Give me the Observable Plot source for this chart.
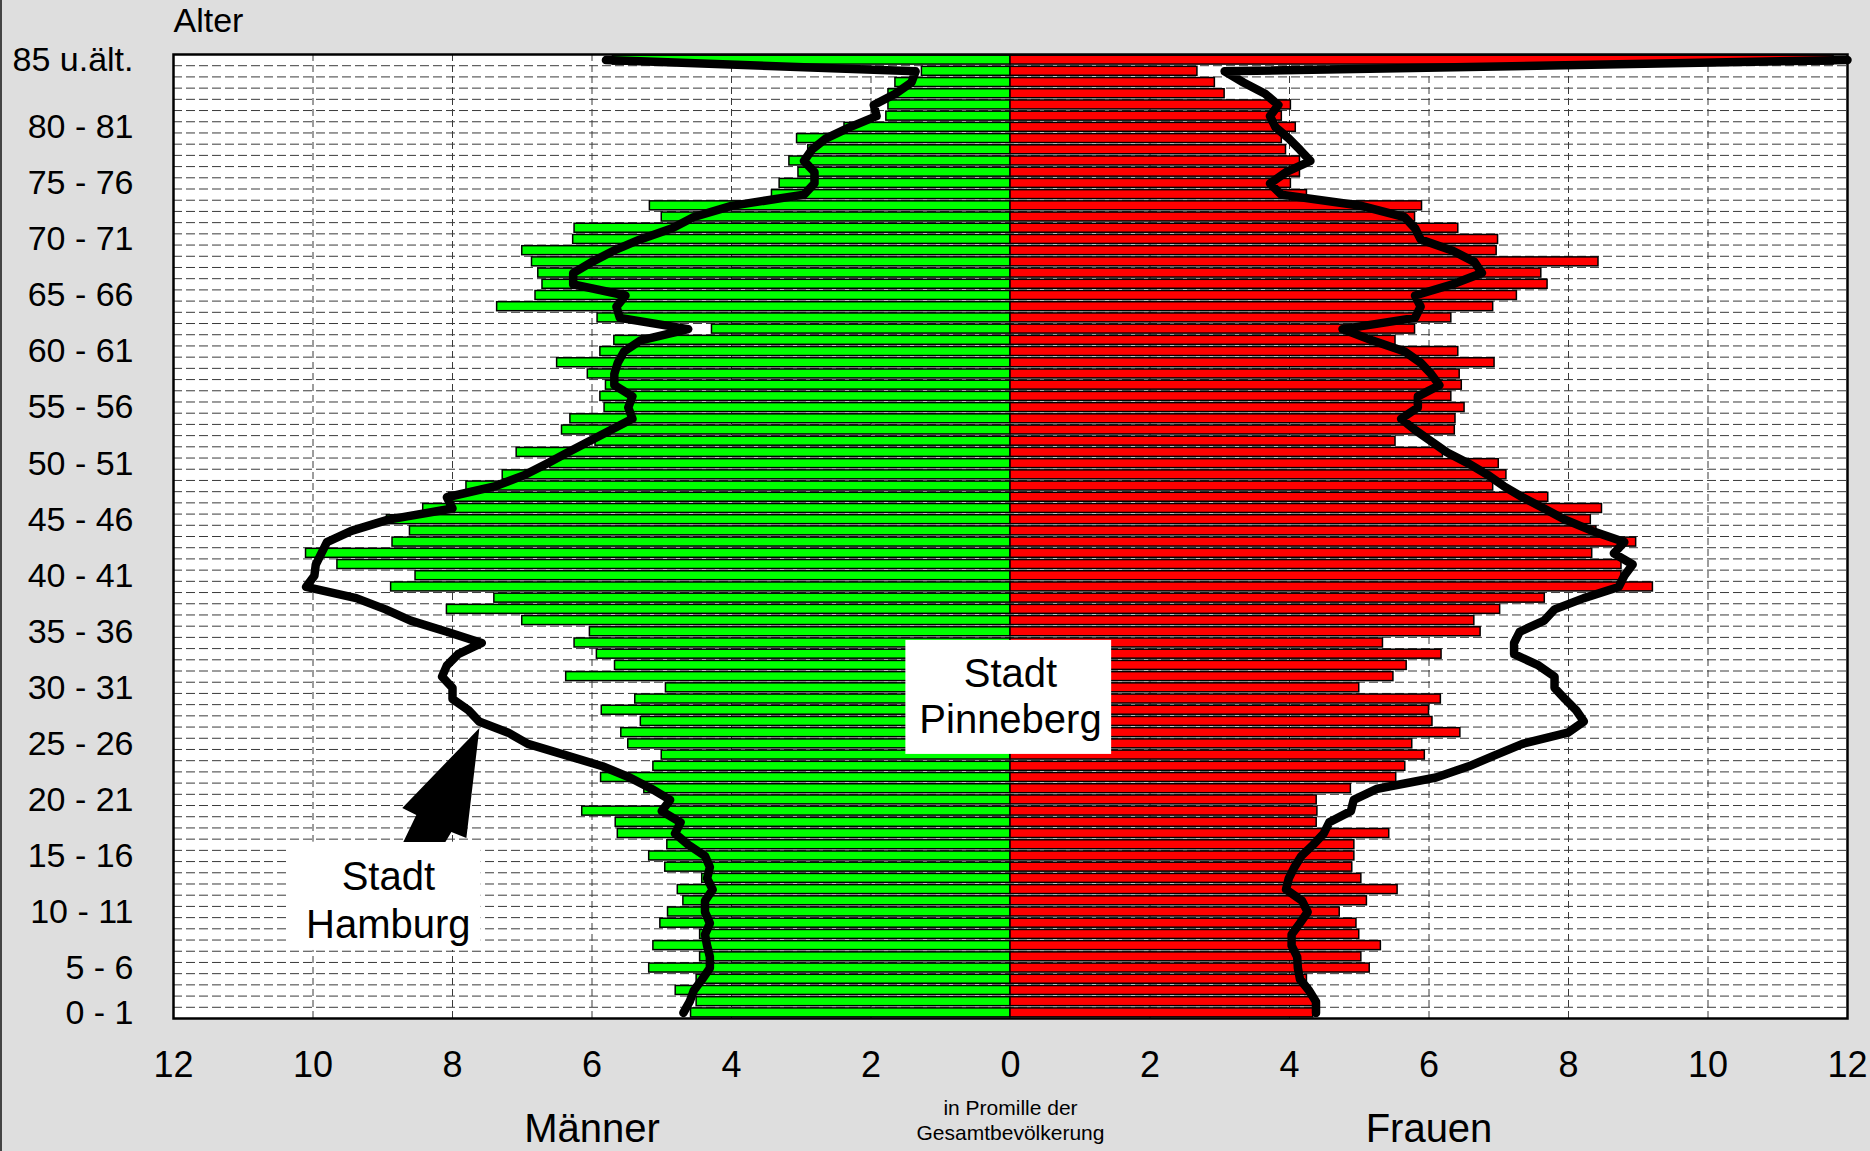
<!DOCTYPE html>
<html>
<head>
<meta charset="utf-8">
<script src="https://cdn.jsdelivr.net/npm/d3@7"></script>
<script src="https://cdn.jsdelivr.net/npm/@observablehq/plot@0.6"></script>
<style>
  html, body { margin: 0; padding: 0; background: #dedede; }
  #wrap { position: relative; width: 1870px; height: 1151px; overflow: hidden; }
  #edge { position: absolute; left: 0; top: 0; width: 1.5px; height: 1151px; background: #444; }
  svg { display: block; }
</style>
</head>
<body>
<div id="wrap"><div id="edge"></div></div>
<script>
// Age rows, from top (85 and older) down to age 0
const ages = [85,84,83,82,81,80,79,78,77,76,75,74,73,72,71,70,69,68,67,66,65,64,63,62,61,60,59,58,57,56,55,54,53,52,51,50,49,48,47,46,45,44,43,42,41,40,39,38,37,36,35,34,33,32,31,30,29,28,27,26,25,24,23,22,21,20,19,18,17,16,15,14,13,12,11,10,9,8,7,6,5,4,3,2,1,0];

// Stadt Pinneberg, Männer (‰ of total population)
const pinnebergMen = [
  5.7, 1.27, 1.65, 1.75, 1.75, 1.78, 2.38, 3.06, 2.9, 3.17,
  3.04, 3.31, 3.42, 5.17, 5.0, 6.25, 6.27, 7.0, 6.86, 6.77,
  6.71, 6.81, 7.36, 5.92, 4.28, 5.68, 5.88, 6.5, 6.06, 5.8,
  5.88, 5.82, 6.31, 6.43, 5.95, 7.08, 6.6, 7.28, 7.8, 8.05,
  8.42, 8.94, 8.61, 8.86, 10.1, 9.65, 8.53, 8.88, 7.4, 8.08,
  7.0, 6.03, 6.25, 5.93, 5.67, 6.37, 4.94, 5.38, 5.86, 5.3,
  5.58, 5.48, 5.0, 5.12, 5.87, 5.25, 4.9, 6.14, 5.66, 5.63,
  4.92, 5.18, 4.95, 4.42, 4.77, 4.69, 4.91, 5.02, 4.45, 5.12,
  4.45, 5.18, 4.5, 4.8, 4.5, 4.58
];
// Stadt Pinneberg, Frauen
const pinnebergWomen = [
  11.8, 2.68, 2.93, 3.07, 4.02, 3.89, 4.09, 3.89, 3.95, 4.15,
  4.15, 4.02, 4.25, 5.9, 5.8, 6.42, 6.99, 6.97, 8.43, 7.61,
  7.7, 7.26, 6.92, 6.32, 5.8, 5.52, 6.42, 6.94, 6.44, 6.47,
  6.32, 6.51, 6.38, 6.37, 5.52, 6.2, 7.0, 7.11, 6.92, 7.71,
  8.48, 8.32, 8.4, 8.97, 8.34, 8.76, 8.76, 9.21, 7.66, 7.02,
  6.65, 6.74, 5.34, 6.18, 5.68, 5.49, 5.0, 6.17, 6.0, 6.05,
  6.45, 5.76, 5.94, 5.66, 5.53, 4.88, 4.39, 4.4, 4.39, 5.43,
  4.93, 4.93, 4.9, 5.03, 5.55, 5.11, 4.72, 4.96, 5.0, 5.31,
  5.03, 5.15, 4.25, 4.3, 4.34, 4.34
];
// Stadt Hamburg, Männer
const hamburgMen = [
  5.8, 1.36, 1.42, 1.65, 1.96, 1.92, 2.31, 2.65, 2.85, 2.96,
  2.81, 2.81, 2.96, 4.0, 4.54, 4.85, 5.31, 5.69, 6.0, 6.27,
  6.27, 5.52, 5.65, 5.6, 4.62, 5.3, 5.54, 5.63, 5.68, 5.68,
  5.42, 5.48, 5.42, 5.73, 6.04, 6.35, 6.65, 6.96, 7.38, 8.08,
  8.0, 8.92, 9.45, 9.8, 9.88, 9.96, 9.98, 10.1, 9.38, 8.96,
  8.6, 8.08, 7.58, 7.92, 8.08, 8.15, 8.0, 8.0, 7.77, 7.62,
  7.2, 6.92, 6.38, 5.85, 5.46, 5.15, 4.88, 5.0, 4.73, 4.81,
  4.62, 4.38, 4.31, 4.35, 4.27, 4.38, 4.38, 4.31, 4.38, 4.35,
  4.31, 4.31, 4.42, 4.54, 4.6, 4.69
];
// Stadt Hamburg, Frauen
const hamburgWomen = [
  12.0, 3.07, 3.34, 3.65, 3.84, 3.72, 3.8, 3.99, 4.15, 4.3,
  3.95, 3.72, 3.88, 5.03, 5.65, 5.8, 5.88, 6.34, 6.65, 6.76,
  6.34, 5.8, 5.88, 5.8, 4.76, 5.18, 5.65, 5.88, 6.03, 6.15,
  5.84, 5.84, 5.6, 5.8, 6.03, 6.26, 6.57, 6.84, 7.07, 7.34,
  7.65, 7.95, 8.34, 8.8, 8.65, 8.92, 8.8, 8.72, 8.22, 7.8,
  7.65, 7.3, 7.22, 7.22, 7.57, 7.8, 7.8, 7.95, 8.11, 8.22,
  7.99, 7.34, 6.95, 6.57, 6.1, 5.26, 4.92, 4.88, 4.57, 4.49,
  4.34, 4.17, 4.07, 3.99, 3.95, 4.18, 4.26, 4.15, 4.03, 4.03,
  4.11, 4.12, 4.15, 4.28, 4.38, 4.38
];

// Axis ticks and labels
const xTicks = [-12,-10,-8,-6,-4,-2,0,2,4,6,8,10,12];
const yTickAges = [85,79,74,69,64,59,54,49,44,39,34,29,24,19,14,9,4,0];
const yTickLabels = ["85 u.ält.","80 - 81","75 - 76","70 - 71","65 - 66","60 - 61","55 - 56","50 - 51","45 - 46","40 - 41","35 - 36","30 - 31","25 - 26","20 - 21","15 - 16","10 - 11","5 - 6","0 - 1"];

// Annotations (in data units: x in ‰, y in age rows)
const annoBoxes = [
  {x1: -1.5, x2: 1.45, y1: 23.06, y2: 33.23},
  {x1: -10.36, x2: -7.59, y1: 5.57, y2: 15.23}
];
const annoTexts = [
  {x: 0, y: 30.2, text: "Stadt"},
  {x: 0, y: 26.07, text: "Pinneberg"},
  {x: -8.92, y: 12.13, text: "Stadt"},
  {x: -8.92, y: 7.85, text: "Hamburg"}
];
const arrowPts = [
  [-7.607, 25.375], [-7.794, 15.56], [-8.009, 16.1], [-8.095, 15.21],
  [-8.698, 15.21], [-8.512, 17.61], [-8.713, 18.24]
];
const sexLabels = [{x: -6, text: "Männer"}, {x: 6, text: "Frauen"}];

const rows = ages.map((age, i) => ({
  age,
  men: pinnebergMen[i],
  women: pinnebergWomen[i],
  hhMen: hamburgMen[i],
  hhWomen: hamburgWomen[i]
}));
const boundaries = ages.filter(a => a > 0).map(a => a - 0.5);
const labelOf = new Map(yTickAges.map((a, i) => [a, yTickLabels[i]]));
const FONT = "'Liberation Sans', Arial, Helvetica, sans-serif";

const plot = Plot.plot({
  width: 1870,
  height: 1151,
  marginLeft: 173,
  marginRight: 23,
  marginTop: 54,
  marginBottom: 133,
  style: {fontFamily: FONT, fontSize: "34px", background: "transparent", color: "black", overflow: "visible"},
  x: {domain: [-12, 12]},
  y: {domain: [-0.5, 85.5]},
  marks: [
    Plot.frame({fill: "white", stroke: "none"}),
    Plot.ruleY(boundaries, {stroke: "#3a3a3a", strokeWidth: 1, strokeDasharray: "9,4"}),
    Plot.ruleX(xTicks.filter(v => v !== 0 && Math.abs(v) < 12), {stroke: "#3a3a3a", strokeWidth: 1, strokeDasharray: "7,4"}),
    Plot.rect(rows, {x1: d => 0, x2: d => -d.men, y1: d => d.age - 0.4, y2: d => d.age + 0.4, fill: "#00ff00", stroke: "black", strokeWidth: 1.5}),
    Plot.rect(rows, {x1: d => 0, x2: d => d.women, y1: d => d.age - 0.4, y2: d => d.age + 0.4, fill: "#ff0000", stroke: "black", strokeWidth: 1.5}),
    Plot.line(rows, {x: d => -d.hhMen, y: "age", stroke: "black", strokeWidth: 8.5, strokeLinejoin: "round", strokeLinecap: "round"}),
    Plot.line(rows, {x: "hhWomen", y: "age", stroke: "black", strokeWidth: 8.5, strokeLinejoin: "round", strokeLinecap: "round"}),
    Plot.rect(annoBoxes, {x1: "x1", x2: "x2", y1: "y1", y2: "y2", fill: "white"}),
    Plot.text(annoTexts, {x: "x", y: "y", text: "text", fontSize: 40, fill: "black"}),
    Plot.frame({stroke: "black", strokeWidth: 2.5}),
    Plot.axisX({ticks: xTicks, tickFormat: d => Math.abs(d), tickSize: 0, tickPadding: 33, fontSize: 36, label: null}),
    Plot.axisY({ticks: yTickAges, tickFormat: d => labelOf.get(d), tickSize: 0, tickPadding: 40, fontSize: 34, label: null}),
    Plot.text(["Alter"], {frameAnchor: "top-left", lineAnchor: "middle", textAnchor: "start", dy: -33, fontSize: 34, fill: "black"}),
    Plot.text(sexLabels, {x: "x", text: "text", frameAnchor: "bottom", lineAnchor: "middle", dy: 111, fontSize: 40, fill: "black"}),
    Plot.text(["in Promille der"], {x: () => 0, frameAnchor: "bottom", lineAnchor: "middle", dy: 90, fontSize: 21, fill: "black"}),
    Plot.text(["Gesamtbevölkerung"], {x: () => 0, frameAnchor: "bottom", lineAnchor: "middle", dy: 115, fontSize: 21, fill: "black"})
  ]
});

// Fat annotation arrow, positioned through the plot's own scales
const sx = plot.scale("x"), sy = plot.scale("y");
d3.select(plot).append("path")
  .attr("d", d3.line()(arrowPts.map(([x, y]) => [sx.apply(x), sy.apply(y)])) + "Z")
  .attr("fill", "black");

document.getElementById("wrap").appendChild(plot);
</script>
</body>
</html>
